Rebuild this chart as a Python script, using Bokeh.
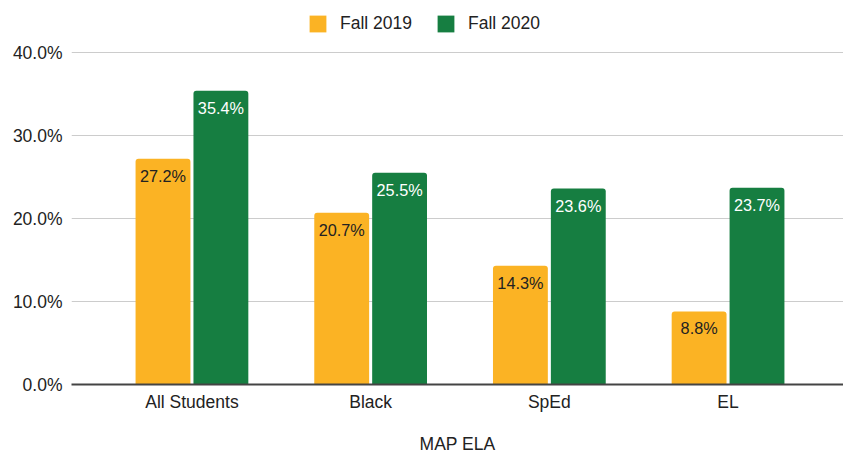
from bokeh.plotting import figure
from bokeh.models import (ColumnDataSource, Range1d, FixedTicker, NumeralTickFormatter,
                          Legend, LegendItem)
from bokeh.core.properties import value
from bokeh.embed import file_html
from bokeh.resources import INLINE

categories = ["All Students", "Black", "SpEd", "EL"]
fall_2019 = [0.272, 0.207, 0.143, 0.088]
fall_2020 = [0.354, 0.255, 0.236, 0.237]
labels_2019 = ["27.2%", "20.7%", "14.3%", "8.8%"]
labels_2020 = ["35.4%", "25.5%", "23.6%", "23.7%"]
y_ticks = [0.0, 0.1, 0.2, 0.3, 0.4]
x_title = "MAP ELA"

ORANGE = "#FBB324"
GREEN = "#167E41"
FONT = "Liberation Sans"
TXT = "#222222"

idx = list(range(len(categories)))
off = 0.162
bw = 0.307

src19 = ColumnDataSource(dict(x=[i - off for i in idx], top=fall_2019, lab=labels_2019))
src20 = ColumnDataSource(dict(x=[i + off for i in idx], top=fall_2020, lab=labels_2020))

# frame spans the full height above the axis; the legend sits in its top strip
x_start, x_end = -0.674, 3.646
y_end = 0.4 * 384 / 332

p = figure(width=843, height=456, output_backend="svg", toolbar_location=None,
           x_range=Range1d(x_start, x_end), y_range=Range1d(0, y_end),
           min_border_left=71, min_border_right=0, min_border_bottom=72, min_border_top=0)
p.outline_line_color = None
p.background_fill_color = "white"

r19 = p.vbar(x="x", top="top", width=bw, source=src19, fill_color=ORANGE, line_color=None,
             border_radius=(3, 3, 0, 0))
r20 = p.vbar(x="x", top="top", width=bw, source=src20, fill_color=GREEN, line_color=None,
             border_radius=(3, 3, 0, 0))

p.text(x="x", y="top", text="lab", source=src19, text_align="center", text_baseline="top",
       y_offset=8, text_font=value(FONT), text_font_size="16.25px", text_color=TXT)
p.text(x="x", y="top", text="lab", source=src20, text_align="center", text_baseline="top",
       y_offset=8, text_font=value(FONT), text_font_size="16.25px", text_color="#ffffff")

# axes
p.xaxis.ticker = FixedTicker(ticks=idx)
p.xaxis.major_label_overrides = {i: c for i, c in zip(idx, categories)}
p.xaxis.axis_line_color = "#444444"
p.xaxis.axis_line_width = 2
p.xaxis.major_tick_line_color = None
p.xaxis.major_tick_out = 0
p.xaxis.major_tick_in = 0
p.xaxis.minor_tick_line_color = None
p.xaxis.major_label_text_font = FONT
p.xaxis.major_label_text_font_size = "17.5px"
p.xaxis.major_label_text_color = TXT
p.xaxis.major_label_text_line_height = 1.0
p.xaxis.major_label_standoff = 7
p.xaxis.axis_label = x_title
p.xaxis.axis_label_text_font = FONT
p.xaxis.axis_label_text_font_size = "17.5px"
p.xaxis.axis_label_text_font_style = "normal"
p.xaxis.axis_label_text_color = TXT
p.xaxis.axis_label_text_line_height = 1.0
p.xaxis.axis_label_standoff = 19

p.yaxis.ticker = FixedTicker(ticks=y_ticks)
p.yaxis.formatter = NumeralTickFormatter(format="0.0%")
p.yaxis.axis_line_color = None
p.yaxis.major_tick_line_color = None
p.yaxis.major_tick_out = 0
p.yaxis.major_tick_in = 0
p.yaxis.minor_tick_line_color = None
p.yaxis.major_label_text_font = FONT
p.yaxis.major_label_text_font_size = "17.5px"
p.yaxis.major_label_text_color = TXT
p.yaxis.major_label_standoff = 9

p.xgrid.grid_line_color = None
p.ygrid.ticker = FixedTicker(ticks=y_ticks)
p.ygrid.grid_line_color = "#cccccc"
p.ygrid.grid_line_width = 1

legend = Legend(items=[LegendItem(label="Fall 2019", renderers=[r19]),
                       LegendItem(label="Fall 2020", renderers=[r20])],
                orientation="horizontal", location=(236, 350),
                label_text_font=FONT, label_text_font_size="17.5px", label_text_color=TXT,
                label_standoff=12, glyph_width=21, glyph_height=21, spacing=23, padding=6, margin=0,
                border_line_color=None, background_fill_alpha=0)
p.add_layout(legend, "center")

open("out.html", "w").write(file_html(p, INLINE))
